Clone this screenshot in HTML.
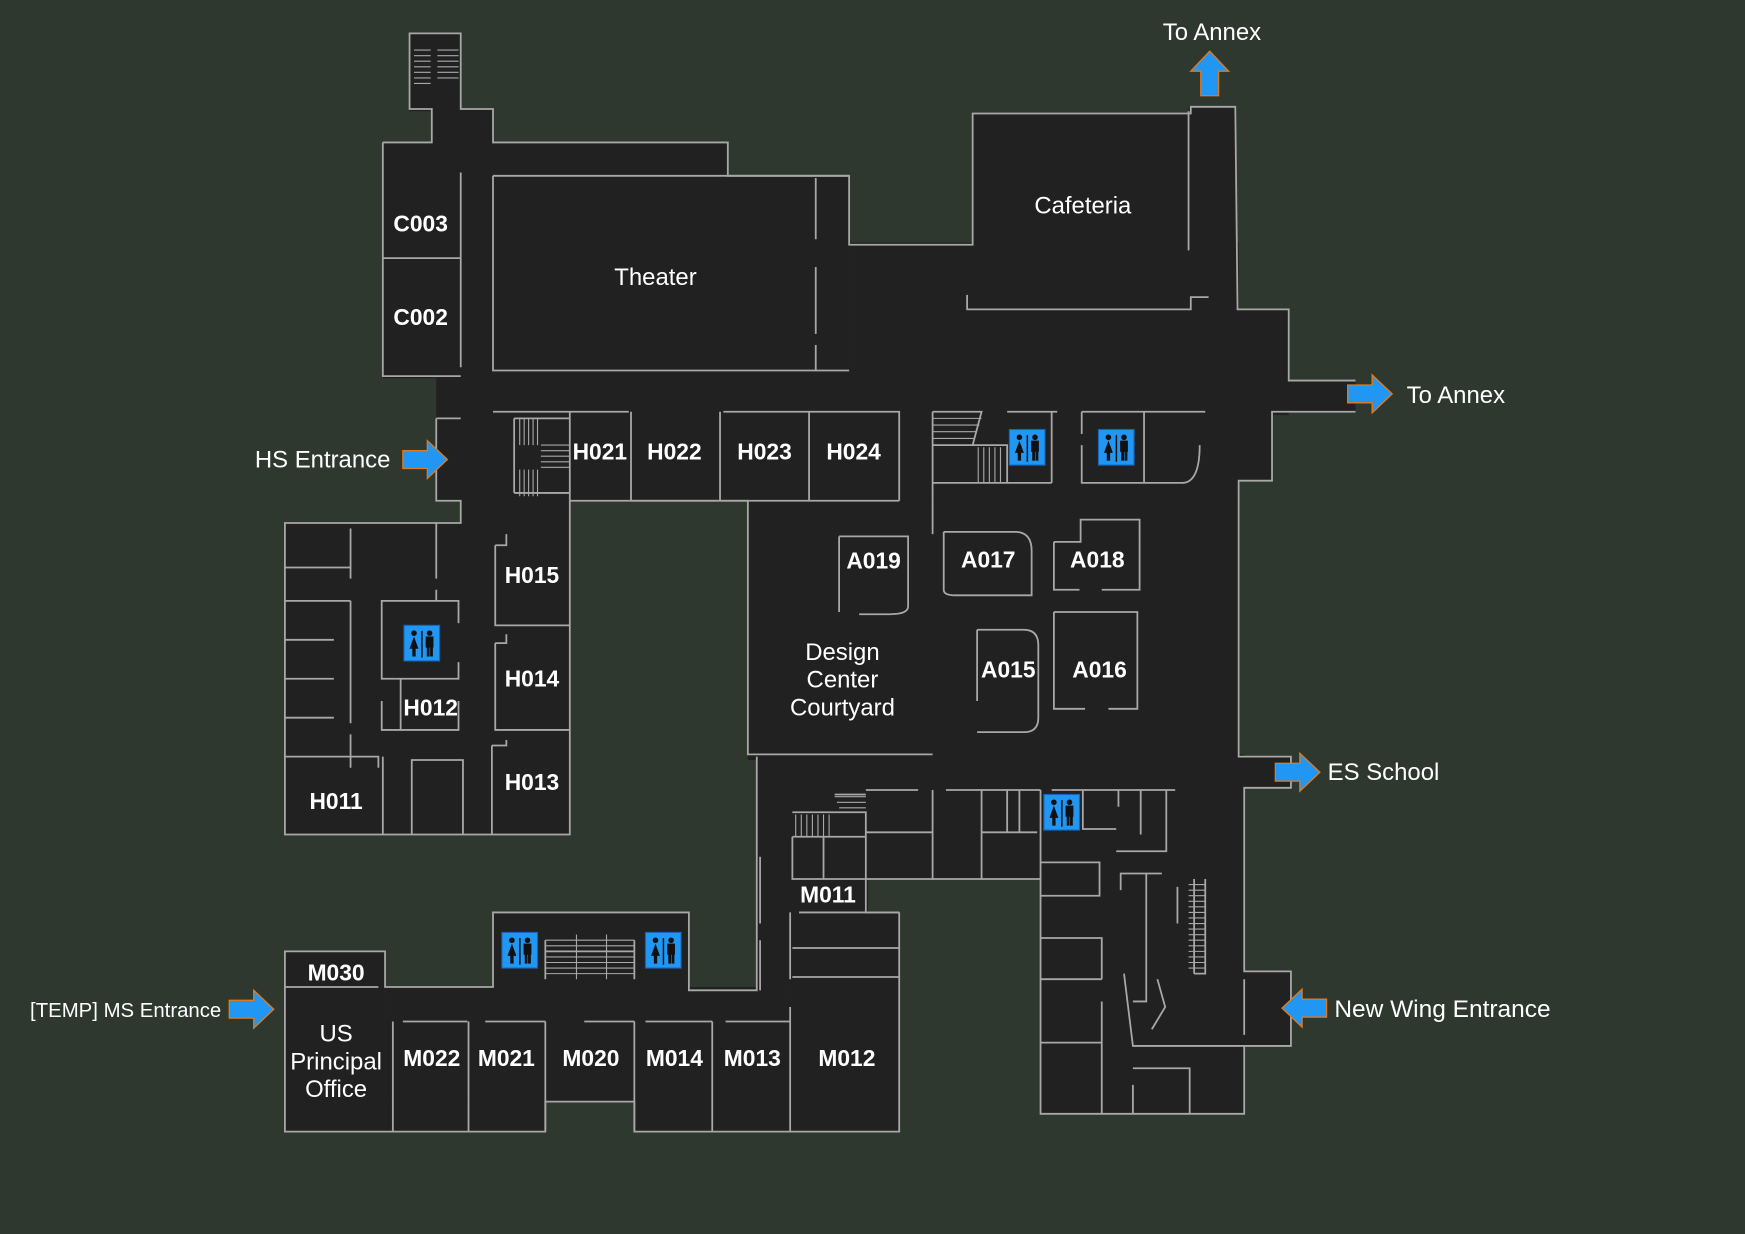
<!DOCTYPE html>
<html><head><meta charset="utf-8"><style>
html,body{margin:0;padding:0;background:#2e382e;}
svg{display:block}
text{font-family:"Liberation Sans",sans-serif;fill:#fff}
.b{font-weight:bold;font-size:20.5px}
.r{font-size:21.5px}
</style></head><body>
<svg width="1745" height="1234" viewBox="0 0 1568 1109" preserveAspectRatio="none" xmlns="http://www.w3.org/2000/svg">
<defs>
<g id="wc"><rect x="0" y="0" width="32" height="32" fill="#2196f3" stroke="#1565c0" stroke-width="1"/>
<circle cx="9" cy="7" r="2.5" fill="#111"/><path d="M9 10 L5 21 L7.5 21 L7.5 28 L10.5 28 L10.5 21 L13 21 Z" fill="#111"/>
<rect x="15.5" y="5" width="1.3" height="24" fill="#111"/>
<circle cx="23" cy="7" r="2.5" fill="#111"/><rect x="19.5" y="10" width="7" height="10" fill="#111"/><rect x="20.5" y="19" width="2.5" height="9" fill="#111"/><rect x="23.5" y="19" width="2.5" height="9" fill="#111"/></g>
<g id="ar"><path d="M0 -8 L22 -8 L22 -17 L40 0 L22 17 L22 8 L0 8 Z" fill="#2196f3" stroke="#e07a20" stroke-width="1.2"/></g>
</defs>
<rect width="1568" height="1109" fill="#2e382e"/>
<g fill="#212121">
<rect x="368" y="30" width="46" height="70"/>
<rect x="388" y="98" width="55" height="32"/>
<rect x="344" y="128" width="310" height="32"/>
<rect x="344" y="158" width="419" height="182"/>
<rect x="414" y="100" width="29" height="380"/>
<rect x="874" y="102" width="196" height="120"/>
<rect x="1068" y="96" width="43" height="200"/>
<rect x="763" y="218" width="350" height="155"/>
<rect x="1108" y="278" width="50" height="95"/>
<rect x="1155" y="342" width="63" height="28"/>
<rect x="392" y="333" width="750" height="40"/>
<rect x="392" y="370" width="721" height="80"/>
<rect x="1110" y="368" width="33" height="64"/>
<rect x="672" y="448" width="441" height="235"/>
<rect x="256" y="470" width="256" height="280"/>
<rect x="414" y="448" width="98" height="25"/>
<rect x="680" y="678" width="438" height="32"/>
<rect x="680" y="700" width="100" height="120"/>
<rect x="778" y="706" width="157" height="84"/>
<rect x="680" y="700" width="30" height="190"/>
<rect x="710" y="820" width="98" height="197"/>
<rect x="935" y="706" width="183" height="295"/>
<rect x="1115" y="680" width="45" height="28"/>
<rect x="1115" y="873" width="45" height="67"/>
<rect x="256" y="855" width="90" height="162"/>
<rect x="346" y="887" width="364" height="103"/>
<rect x="346" y="985" width="144" height="32"/>
<rect x="570" y="985" width="140" height="32"/>
<rect x="443" y="820" width="176" height="70"/>
</g>
<g fill="none" stroke="#a8a8a8" stroke-width="1.6">
<path d="M344 128 H388 V98 H368 V30 H414 V98 H443 V128 H654 V158 H763 V220 H874 V102 H1070 V96 H1110 L1112 278 H1158 V342 H1218"/>
<path d="M1218 370 H1143 V432 H1113 V680 H1160 V708 H1118 V873 H1160 V940 H1118 V1001 H935 V790 H778 V820 H808"/>
<path d="M344 128 V338 H414"/><path d="M392 376 H414 M392 376 V450 H414 V470 H256 V750 H512 V450 H512"/>
<path d="M512 450 H672 V678 H838"/>
<path d="M680 680 V890 H619 V820 H443 V887 H346 V855 H256 V1017 H490 V990 H570 V1017 H808 V820"/>
<path d="M443 158 V333 H763 M443 158 H763 M733 160 V215 M733 240 V300 M733 310 V333"/>
<path d="M414 155 V330 M344 232 H414"/>
<path d="M1068 100 V225 M869 265 V278 H1070 V267 H1086"/>
<path d="M443 370 H512 M512 370 V450 M512 370 H565 M567 370 V450 H645 M647 370 V450 H727 M650 370 H727 M727 370 H808 V450 M727 370 V450 M672 450 H690 M718 450 H808"/>
<path d="M462 376 H512 M462 443 H512 M462 376 V443"/>
<g stroke-width="1"><path d="M467 376 V400 M471 376 V400 M475 376 V400 M479 376 V400 M483 376 V400 M467 422 V446 M471 422 V446 M475 422 V446 M479 422 V446 M483 422 V446 M486 400 H512 M486 405 H512 M486 410 H512 M486 415 H512 M486 420 H512"/></g>
<g stroke-width="1"><path d="M372 45 H387 M372 50 H387 M372 55 H387 M372 60 H387 M372 65 H387 M372 70 H387 M372 75 H387 M393 45 H412 M393 50 H412 M393 55 H412 M393 60 H412 M393 65 H412 M393 70 H412"/></g>
<path d="M838 370 V480 M838 434 H945 M945 370 V434 M838 370 H882 L874 400 H838 M874 400 H905 V434 M905 370 H950"/>
<g stroke-width="1"><path d="M838 376 H882 M838 382 H880 M838 388 H878 M838 394 H876 M879 402 V434 M884 402 V434 M889 402 V434 M894 402 V434 M899 402 V434"/></g>
<path d="M972 370 V390 M972 400 V434 H1062 Q1078 434 1078 400 M972 370 H1083 M1028 370 V434"/>
<path d="M754 482 H816 V545 Q816 552 800 552 H772 M754 482 V550"/>
<path d="M848 478 H912 Q927 478 927 495 V535 H858 M848 478 V530 Q848 535 858 535"/>
<path d="M947 487 H971 V467 H1024 V530 H990 M947 487 V530 H970"/>
<path d="M878 566 H920 Q933 566 933 580 V645 Q933 658 920 658 H878 M878 566 V630"/>
<path d="M947 550 H1022 V637 H996 M947 550 V637 H975"/>
<path d="M256 510 H315 M256 540 H315 M256 575 H300 M256 610 H300 M256 645 H300 M256 680 H340 V690 M315 475 V520 M315 540 V650 M315 660 V690 M392 470 V520 M392 530 V540"/>
<path d="M412 560 V540 H343 V610 H412 V595 M360 610 V656 M343 630 V656 H412 V630 M445 490 V562 H512 M445 490 H455 V480 M445 578 V656 H512 M445 578 H455 V570 M442 670 V750 M442 670 H455 V665 M370 750 V683 H416 V750 M344 680 V750"/>
<path d="M712 730 H778 V752 M712 752 H778 V790 M712 752 V790 H778 M750 714 H778 M740 752 V790 M710 820 V880 M718 820 H808 M712 852 H808 M712 878 H808 M683 770 V830 M683 845 V890"/>
<g stroke-width="1"><path d="M715 732 V752 M720 732 V752 M725 732 V752 M730 732 V752 M735 732 V752 M740 732 V752 M745 732 V752 M750 716 H778 M752 721 H778 M754 726 H778"/></g>
<path d="M778 748 H838 M838 710 V790 M882 710 V790 M882 748 H932 M905 710 V748 M916 710 V748 M778 710 H825 M850 710 H935 M935 710 V790"/>
<path d="M945 710 H1056 M973 710 V745 H1003 M1025 710 V750 M1048 710 V765 H1003 M1005 710 V725"/>
<path d="M935 775 H988 V805 H935 M1007 800 V785 H1044 M1030 785 V900 H1018 M1058 797 V830 M1073 790 V875 M1083 790 V875 H1073 M1010 875 L1018 940 H1118 M1040 880 L1047 905 L1035 925"/>
<g stroke-width="1"><path d="M1068 795 H1083 M1068 800 H1083 M1068 805 H1083 M1068 810 H1083 M1068 815 H1083 M1068 820 H1083 M1068 825 H1083 M1068 830 H1083 M1068 835 H1083 M1068 840 H1083 M1068 845 H1083 M1068 850 H1083 M1068 855 H1083 M1068 860 H1083 M1068 865 H1083 M1068 870 H1083"/></g>
<path d="M935 843 H990 V880 M935 880 H990 M935 937 H990 M990 900 V1001 M1018 960 H1069 V1001 M1018 975 V1001 M1118 880 V930"/>
<path d="M256 887 H340 M353 918 V1017 M362 918 H420 M421 918 V1017 M436 918 H490 M490 918 V1017 M525 918 H570 M570 918 V1017 M580 918 H640 M640 918 V1017 M652 918 H710 M710 905 V1017 M490 855 H570 M490 845 V880 M570 845 V880"/>
<g stroke-width="1"><path d="M490 845 H570 M490 850 H570 M490 855 H570 M490 860 H570 M490 865 H570 M490 870 H570 M490 875 H570 M518 840 V880 M545 840 V880"/></g>
</g>
<use href="#wc" x="907" y="386"/>
<use href="#wc" x="987" y="386"/>
<use href="#wc" x="363" y="562"/>
<use href="#wc" x="938" y="714"/>
<use href="#wc" x="451" y="838"/>
<use href="#wc" x="580" y="838"/>
<use href="#ar" x="362" y="413"/>
<use href="#ar" x="1211" y="354"/>
<use href="#ar" x="1146" y="694"/>
<use href="#ar" x="206" y="907"/>
<use href="#ar" transform="translate(1192 906) scale(-1 1)"/>
<use href="#ar" transform="translate(1087 86) rotate(-90)"/>
<g class="b" text-anchor="middle">
<text x="378" y="208">C003</text><text x="378" y="292">C002</text>
<text x="539" y="413">H021</text><text x="606" y="413">H022</text><text x="687" y="413">H023</text><text x="767" y="413">H024</text>
<text x="478" y="524">H015</text><text x="478" y="617">H014</text><text x="387" y="643">H012</text><text x="478" y="710">H013</text><text x="302" y="727">H011</text>
<text x="785" y="511">A019</text><text x="888" y="510">A017</text><text x="986" y="510">A018</text><text x="906" y="609">A015</text><text x="988" y="609">A016</text>
<text x="744" y="811">M011</text><text x="302" y="881">M030</text>
<text x="388" y="958">M022</text><text x="455" y="958">M021</text><text x="531" y="958">M020</text><text x="606" y="958">M014</text><text x="676" y="958">M013</text><text x="761" y="958">M012</text>
</g>
<g class="r" text-anchor="middle">
<text x="589" y="256">Theater</text><text x="973" y="192">Cafeteria</text>
<text x="757" y="593">Design</text><text x="757" y="618">Center</text><text x="757" y="643">Courtyard</text>
<text x="302" y="936">US</text><text x="302" y="961">Principal</text><text x="302" y="986">Office</text>
<text x="1089" y="36">To Annex</text>
</g>
<g class="r">
<text x="229" y="420">HS Entrance</text>
<text x="1264" y="362">To Annex</text>
<text x="1193" y="701">ES School</text>
<text x="1199" y="914" style="font-size:22px">New Wing Entrance</text>
<text x="27" y="914" style="font-size:18.3px">[TEMP] MS Entrance</text>
</g>
</svg>
</body></html>
